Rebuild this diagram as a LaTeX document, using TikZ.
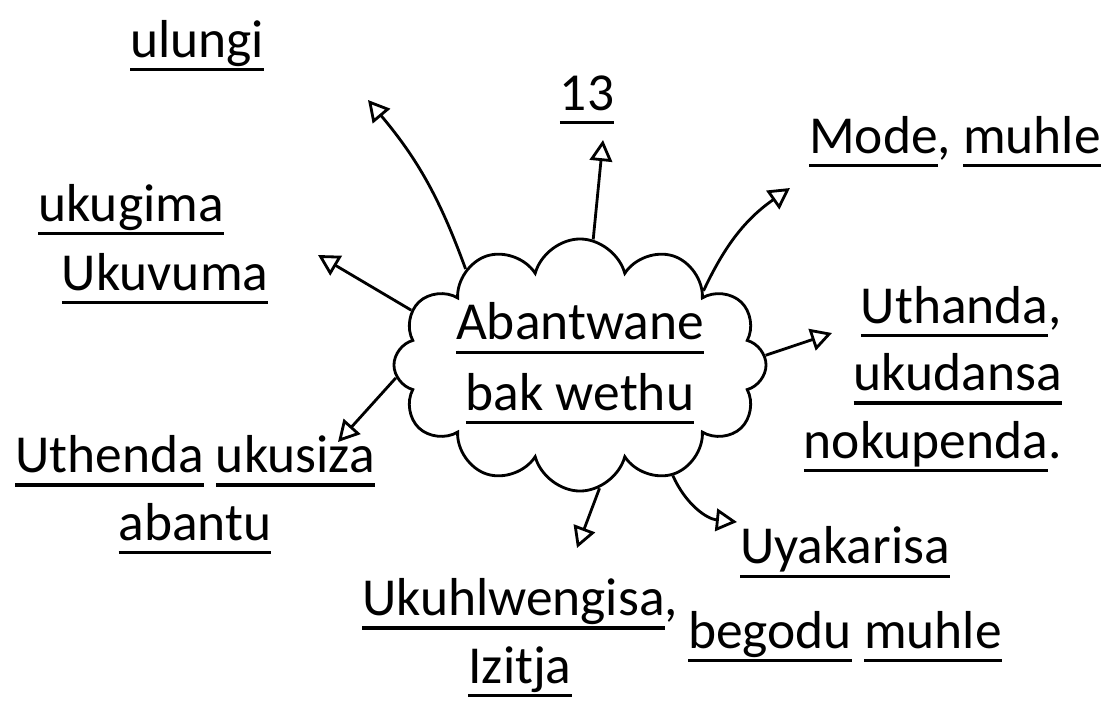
\documentclass[tikz,border=0pt]{standalone}
\usepackage{fontspec}
\setmainfont{Carlito}
\usetikzlibrary{positioning,arrows.meta,shapes.symbols}
\newcommand{\uword}[1]{\setbox0\hbox{#1}\rlap{\rule[-10pt]{\wd0}{2.2pt}}\box0\relax}

\begin{document}
\begin{tikzpicture}[
  x=0.025cm,y=-0.025cm,
  font=\fontsize{38}{48}\selectfont,
  word/.style={anchor=base,align=center,inner sep=0pt},
  link/.style={line width=2pt,-{Triangle[open,length=15pt,width=16pt]}},
  bubble/.style={cloud,draw,line width=2pt,cloud puffs=12,cloud ignores aspect,inner sep=0pt,
                 minimum width=9.3cm,minimum height=6.3cm},
]
  \useasboundingbox (0,0) rectangle (1111,705);
  \node[bubble] (centre) at (580,365) {};
  \node[word] (topic) at (580,410) {\uword{Abantwane}\\[2pt]\uword{bak wethu}};
  \node[word] (ulungi) at (197,57) {\uword{ulungi}};
  \node[word] (ukugima) at (131,221) {\uword{ukugima}};
  \node[word] (ukuvuma) at (165,290) {\uword{Ukuvuma}};
  \node[word] (thirteen) at (587,110) {\uword{13}};
  \node[word] (mode) at (955,153) {\uword{Mode}, \uword{muhle}};
  \node[word,anchor=base east,align=right] (uthanda) at (1062,458)
    {\uword{Uthanda},\\\uword{ukudansa}\\\uword{nokupenda}.};
  \node[word] (uthenda) at (195,540) {\uword{Uthenda} \uword{ukusiza}\\\uword{abantu}};
  \node[word] (ukuhlwengisa) at (520,683) {\uword{Ukuhlwengisa},\\\uword{Izitja}};
  \node[word] (uyakarisa) at (845,648) {\uword{Uyakarisa}\\[12pt]\uword{begodu} \uword{muhle}};

  \coordinate (tip-ulungi) at (368,100);
  \coordinate (tip-thirteen) at (603,140);
  \coordinate (tip-mode) at (790,188);
  \coordinate (tip-uthanda) at (832,333);
  \coordinate (tip-ukuvuma) at (318,255);
  \coordinate (tip-uthenda) at (338,442);
  \coordinate (tip-ukuhlwengisa) at (577,548);
  \coordinate (tip-uyakarisa) at (737,522);

  \draw[link] (centre.140) to[bend right=10] (tip-ulungi);
  \draw[link] (centre.84) -- (tip-thirteen);
  \draw[link] (centre.31) to[bend left=15] (tip-mode);
  \draw[link] (centre.3) -- (tip-uthanda);
  \draw[link] (centre.162) -- (tip-ukuvuma);
  \draw[link] (centre.184) -- (tip-uthenda);
  \draw[link] (centre.279) -- (tip-ukuhlwengisa);
  \draw[link] (centre.310) to[bend right=30] (tip-uyakarisa);
\end{tikzpicture}
\end{document}
